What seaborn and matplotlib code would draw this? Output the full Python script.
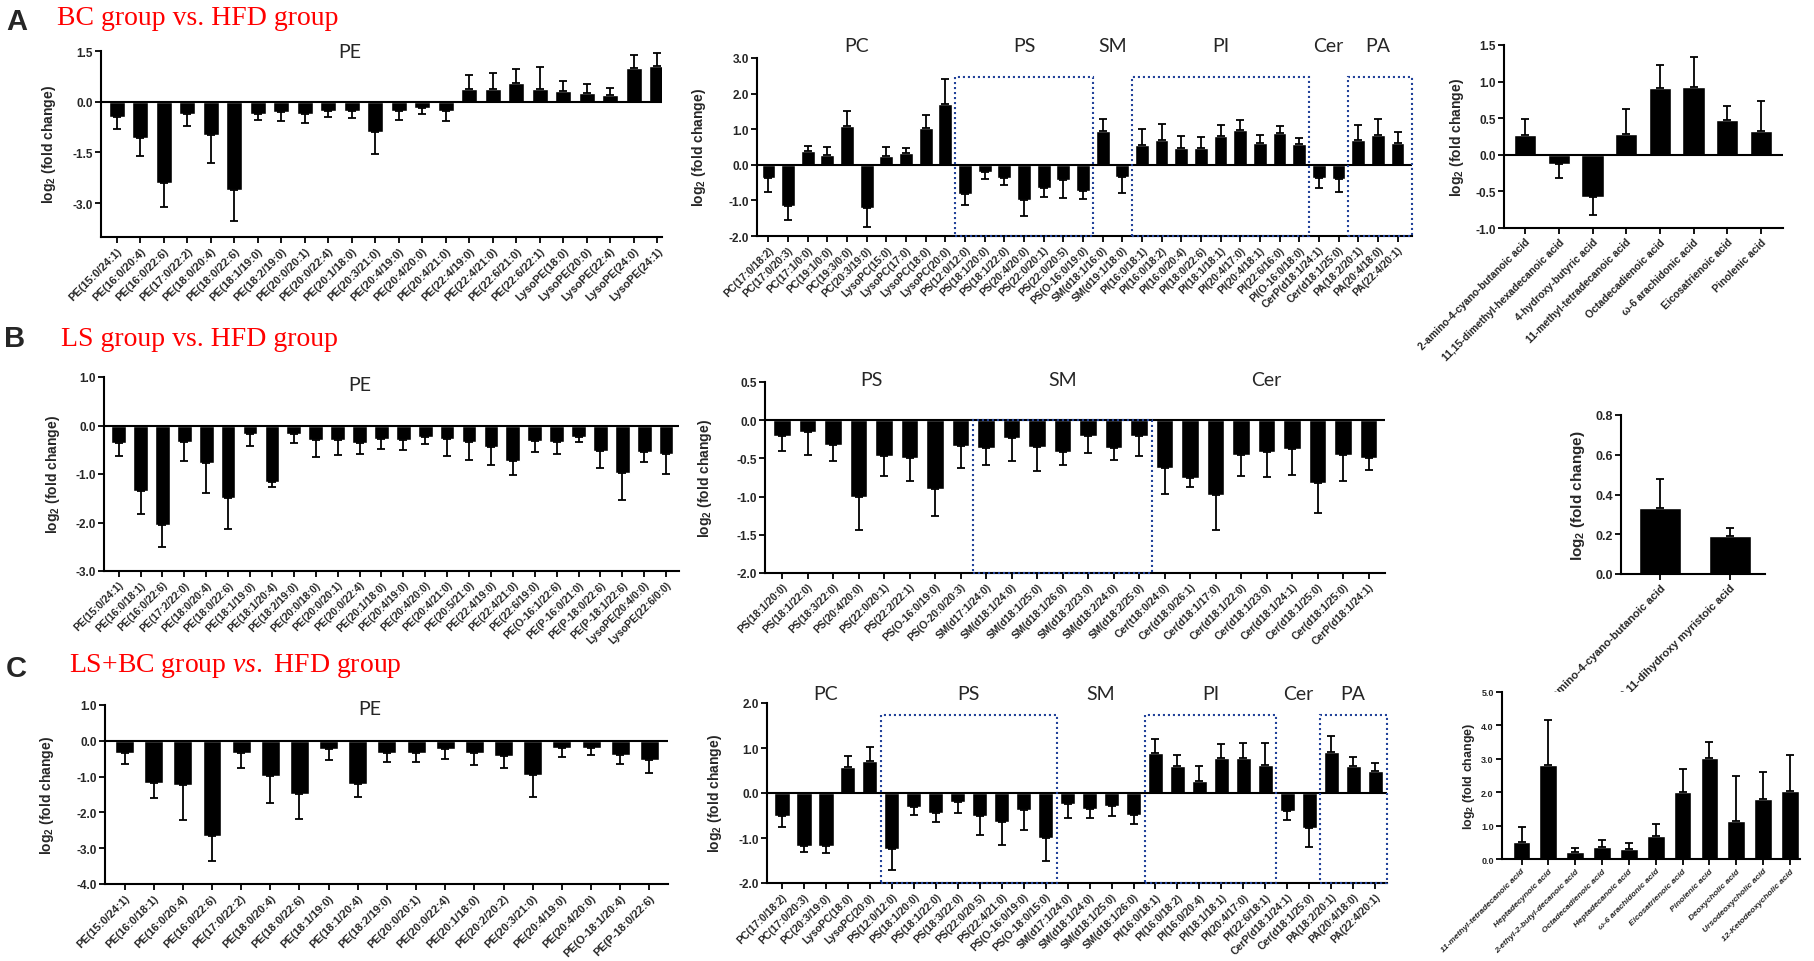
"""
Lipid fold-change bar panels (BC / LS / LS+BC vs. HFD), recreated with seaborn.
"""

import numpy as np
import matplotlib
matplotlib.use("Agg")
import matplotlib.pyplot as plt
import seaborn as sns
from matplotlib.patches import Rectangle
from matplotlib.transforms import blended_transform_factory

W, H = 1814, 962

# ---------------- data: row A (BC vs HFD) ----------------
a_pe_labels = ["PE(15:0/24:1)", "PE(16:0/20:4)", "PE(16:0/22:6)", "PE(17:0/22:2)", "PE(18:0/20:4)",
               "PE(18:0/22:6)", "PE(18:1/19:0)", "PE(18:2/19:0)", "PE(20:0/20:1)", "PE(20:0/22:4)",
               "PE(20:1/18:0)", "PE(20:3/21:0)", "PE(20:4/19:0)", "PE(20:4/20:0)", "PE(20:4/21:0)",
               "PE(22:4/19:0)", "PE(22:4/21:0)", "PE(22:6/21:0)", "PE(22:6/22:1)", "LysoPE(18:0)",
               "LysoPE(20:0)", "LysoPE(22:4)", "LysoPE(24:0)", "LysoPE(24:1)"]
a_pe_vals = [-0.46, -1.07, -2.39, -0.35, -0.97, -2.6, -0.35, -0.3, -0.37, -0.28, -0.27, -0.89,
             -0.26, -0.2, -0.27, 0.37, 0.37, 0.54, 0.39, 0.31, 0.26, 0.2, 1.0, 1.05]
a_pe_tips = [-0.81, -1.6, -3.11, -0.71, -1.8, -3.52, -0.55, -0.57, -0.64, -0.45, -0.49, -1.55,
             -0.54, -0.36, -0.57, 0.79, 0.84, 0.98, 1.02, 0.62, 0.52, 0.42, 1.37, 1.44]

a_mid_labels = ["PC(17:0/18:2)", "PC(17:0/20:3)", "PC(17:1/0:0)", "PC(19:1/0:0)", "PC(19:3/0:0)",
                "PC(20:3/19:0)", "LysoPC(15:0)", "LysoPC(17:0)", "LysoPC(18:0)", "LysoPC(20:0)",
                "PS(12:0/12:0)", "PS(18:1/20:0)", "PS(18:1/22:0)", "PS(20:4/20:0)", "PS(22:0/20:1)",
                "PS(22:0/20:5)", "PS(O-16:0/19:0)", "SM(d18:1/16:0)", "SM(d19:1/18:0)",
                "PI(16:0/18:1)", "PI(16:0/18:2)", "PI(16:0/20:4)", "PI(18:0/22:6)", "PI(18:1/18:1)",
                "PI(20:4/17:0)", "PI(20:4/18:1)", "PI(22:6/16:0)", "PI(O-16:0/18:0)",
                "CerP(d18:1/24:1)", "Cer(d18:1/25:0)", "PA(18:2/20:1)", "PA(20:4/18:0)", "PA(22:4/20:1)"]
a_mid_vals = [-0.37, -1.15, 0.39, 0.28, 1.09, -1.2, 0.26, 0.32, 1.02, 1.72,
              -0.83, -0.21, -0.36, -0.99, -0.66, -0.42, -0.74, 0.94, -0.33,
              0.57, 0.69, 0.46, 0.46, 0.81, 0.98, 0.62, 0.89, 0.58, -0.37, -0.39, 0.69, 0.85, 0.6]
a_mid_tips = [-0.75, -1.56, 0.53, 0.49, 1.5, -1.75, 0.49, 0.47, 1.39, 2.42,
              -1.14, -0.39, -0.56, -1.45, -0.9, -0.93, -0.97, 1.29, -0.78,
              1.01, 1.15, 0.8, 0.78, 1.13, 1.27, 0.85, 1.1, 0.75, -0.66, -0.77, 1.12, 1.29, 0.91]
a_mid_groups = [("PC", 0, 9, False), ("PS", 10, 16, True), ("SM", 17, 18, False),
                ("PI", 19, 27, True), ("Cer", 28, 29, False), ("PA", 30, 32, True)]

a_fa_labels = ["2-amino-4-cyano-butanoic acid", "11,15-dimethyl-hexadecanoic acid",
               "4-hydroxy-butyric acid", "11-methyl-tetradecanoic acid", "Octadecadienoic acid",
               "ω-6 arachidonic acid", "Eicosatrienoic acid", "Pinolenic acid"]
a_fa_vals = [0.27, -0.13, -0.58, 0.28, 0.91, 0.92, 0.48, 0.33]
a_fa_tips = [0.49, -0.32, -0.82, 0.62, 1.22, 1.34, 0.66, 0.73]

# ---------------- data: row B (LS vs HFD) ----------------
b_pe_labels = ["PE(15:0/24:1)", "PE(16:0/18:1)", "PE(16:0/22:6)", "PE(17:2/22:0)", "PE(18:0/20:4)",
               "PE(18:0/22:6)", "PE(18:1/19:0)", "PE(18:1/20:4)", "PE(18:2/19:0)", "PE(20:0/18:0)",
               "PE(20:0/20:1)", "PE(20:0/22:4)", "PE(20:1/18:0)", "PE(20:4/19:0)", "PE(20:4/20:0)",
               "PE(20:4/21:0)", "PE(20:5/21:0)", "PE(22:4/19:0)", "PE(22:4/21:0)", "PE(22:6/19:0)",
               "PE(O-16:1/22:6)", "PE(P-16:0/21:0)", "PE(P-18:0/22:6)", "PE(P-18:1/22:6)",
               "LysoPE(20:4/0:0)", "LysoPE(22:6/0:0)"]
b_pe_vals = [-0.37, -1.35, -2.05, -0.33, -0.78, -1.5, -0.18, -1.17, -0.18, -0.3, -0.29, -0.37,
             -0.27, -0.29, -0.24, -0.27, -0.35, -0.44, -0.73, -0.31, -0.35, -0.23, -0.52, -0.97,
             -0.54, -0.58]
b_pe_tips = [-0.63, -1.83, -2.5, -0.73, -1.39, -2.14, -0.43, -1.27, -0.36, -0.65, -0.6, -0.58,
             -0.49, -0.5, -0.38, -0.62, -0.72, -0.81, -1.02, -0.54, -0.59, -0.35, -0.88, -1.53,
             -0.75, -0.99]

b_mid_labels = ["PS(18:1/20:0)", "PS(18:1/22:0)", "PS(18:3/22:0)", "PS(20:4/20:0)", "PS(22:0/20:1)",
                "PS(22:2/22:1)", "PS(O-16:0/19:0)", "PS(O-20:0/20:3)", "SM(d17:1/24:0)",
                "SM(d18:1/24:0)", "SM(d18:1/25:0)", "SM(d18:1/26:0)", "SM(d18:2/23:0)",
                "SM(d18:2/24:0)", "SM(d18:2/25:0)", "Cer(t18:0/24:0)", "Cer(d18:0/26:1)",
                "Cer(d18:1/17:0)", "Cer(d18:1/22:0)", "Cer(d18:1/23:0)", "Cer(d18:1/24:1)",
                "Cer(d18:1/25:0)", "Cer(d18:1/25:0)", "CerP(d18:1/24:1)"]
b_mid_vals = [-0.21, -0.15, -0.32, -1.0, -0.47, -0.5, -0.9, -0.34, -0.36, -0.23, -0.35, -0.41,
              -0.21, -0.37, -0.21, -0.63, -0.75, -0.98, -0.46, -0.42, -0.38, -0.82, -0.45, -0.5]
b_mid_tips = [-0.4, -0.45, -0.54, -1.44, -0.73, -0.79, -1.26, -0.62, -0.59, -0.54, -0.66, -0.58,
              -0.43, -0.52, -0.47, -0.97, -0.87, -1.44, -0.73, -0.74, -0.72, -1.22, -0.8, -0.65]
b_mid_groups = [("PS", 0, 7, False), ("SM", 8, 14, True), ("Cer", 15, 23, False)]

b_fa_labels = ["2-amino-4-cyano-butanoic acid", "3,11-dihydroxy myristoic acid"]
b_fa_vals = [0.33, 0.19]
b_fa_tips = [0.48, 0.23]

# ---------------- data: row C (LS+BC vs HFD) ----------------
c_pe_labels = ["PE(15:0/24:1)", "PE(16:0/18:1)", "PE(16:0/20:4)", "PE(16:0/22:6)", "PE(17:0/22:2)",
               "PE(18:0/20:4)", "PE(18:0/22:6)", "PE(18:1/19:0)", "PE(18:1/20:4)", "PE(18:2/19:0)",
               "PE(20:0/20:1)", "PE(20:0/22:4)", "PE(20:1/18:0)", "PE(20:2/20:2)", "PE(20:3/21:0)",
               "PE(20:4/19:0)", "PE(20:4/20:0)", "PE(O-18:1/20:4)", "PE(P-18:0/22:6)"]
c_pe_vals = [-0.33, -1.19, -1.24, -2.67, -0.35, -0.98, -1.48, -0.22, -1.21, -0.33, -0.34, -0.24,
             -0.34, -0.43, -0.95, -0.21, -0.21, -0.41, -0.55]
c_pe_tips = [-0.66, -1.61, -2.2, -3.36, -0.75, -1.73, -2.18, -0.53, -1.57, -0.59, -0.6, -0.52,
             -0.67, -0.75, -1.57, -0.46, -0.39, -0.66, -0.9]

c_mid_labels = ["PC(17:0/18:2)", "PC(17:0/20:3)", "PC(20:3/19:0)", "LysoPC(18:0)", "LysoPC(20:0)",
                "PS(12:0/12:0)", "PS(18:1/20:0)", "PS(18:1/22:0)", "PS(18:3/22:0)", "PS(22:0/20:5)",
                "PS(22:4/21:0)", "PS(O-16:0/19:0)", "PS(O-18:0/15:0)", "SM(d17:1/24:0)",
                "SM(d18:1/24:0)", "SM(d18:1/25:0)", "SM(d18:1/26:0)", "PI(16:0/18:1)",
                "PI(16:0/18:2)", "PI(16:0/20:4)", "PI(18:1/18:1)", "PI(20:4/17:0)", "PI(22:6/18:1)",
                "CerP(d18:1/24:1)", "Cer(d18:1/25:0)", "PA(18:2/20:1)", "PA(20:4/18:0)", "PA(22:4/20:1)"]
c_mid_vals = [-0.5, -1.18, -1.18, 0.57, 0.72, -1.24, -0.32, -0.45, -0.19, -0.52, -0.65, -0.38,
              -1.0, -0.25, -0.35, -0.28, -0.49, 0.88, 0.59, 0.27, 0.78, 0.78, 0.63, -0.39, -0.77,
              0.91, 0.6, 0.48]
c_mid_tips = [-0.76, -1.32, -1.34, 0.82, 1.02, -1.7, -0.48, -0.65, -0.45, -0.93, -1.15, -0.82,
              -1.51, -0.56, -0.56, -0.52, -0.68, 1.2, 0.85, 0.59, 1.09, 1.11, 1.11, -0.61, -1.21,
              1.26, 0.81, 0.67]
c_mid_groups = [("PC", 0, 4, False), ("PS", 5, 12, True), ("SM", 13, 16, False),
                ("PI", 17, 22, True), ("Cer", 23, 24, False), ("PA", 25, 27, True)]

c_fa_labels = ["11-methyl-tetradecanoic acid", "Heptadecynoic acid", "2-ethyl-2-butyl-decanoic acid",
               "Octadecadienoic acid", "Heptadecanoic acid", "ω-6 arachidonic acid",
               "Eicosatrienoic acid", "Pinolenic acid", "Deoxycholic acid", "Ursodeoxycholic acid",
               "12-Ketodeoxycholic acid"]
c_fa_vals = [0.52, 2.82, 0.22, 0.36, 0.3, 0.7, 2.01, 3.02, 1.15, 1.81, 2.04]
c_fa_tips = [0.96, 4.17, 0.33, 0.57, 0.48, 1.05, 2.68, 3.49, 2.48, 2.59, 3.12]

# ---------------- style ----------------
sns.set_style("ticks")
plt.rcParams["font.family"] = ["Liberation Sans", "DejaVu Sans"]
plt.rcParams["axes.unicode_minus"] = False
plt.rcParams["mathtext.fontset"] = "custom"
plt.rcParams["mathtext.rm"] = "Liberation Serif"
plt.rcParams["mathtext.it"] = "Liberation Serif:italic"

BOX_COLOR = "#23439a"
GROUP_FONT = ["Lato", "DejaVu Sans"]

fig = plt.figure(figsize=(W / 100, H / 100), dpi=100)


def panel(box, labels, vals, tips, ylim, yticks, first_px, step_px, ylab_px,
          bar_w=0.68, xfs=7.5, yfs=8.5, lfs=10, italic=False):
    """One bar panel; box = (left, top, right, bottom) in pixels."""
    left, top, right, bottom = box
    ax = fig.add_axes([left / W, 1 - bottom / H, (right - left) / W, (bottom - top) / H])
    x = np.arange(len(vals))
    sns.barplot(x=x, y=vals, color="black", saturation=1, width=bar_w,
                errorbar=None, ax=ax, zorder=2)
    v = np.asarray(vals)
    t = np.asarray(tips)
    lower = np.where(v < 0, v - t, 0)
    upper = np.where(v >= 0, t - v, 0)
    ax.errorbar(x, v, yerr=[lower, upper], fmt="none", ecolor="black",
                elinewidth=1.3, capsize=3.0, capthick=1.3, zorder=3)

    ax.set_xlim(-(first_px - left) / step_px, (right - first_px) / step_px)
    ax.set_ylim(ylim)
    if ylim[0] < 0:
        ax.axhline(0, color="black", lw=1.5, zorder=4)

    ax.set_xticks(x)
    ax.set_xticklabels(labels, rotation=45, ha="right", rotation_mode="anchor",
                       fontsize=xfs, fontweight="bold",
                       fontstyle="italic" if italic else "normal")
    ax.set_yticks(yticks)
    ax.set_yticklabels([f"{y:.1f}" for y in yticks], fontsize=yfs, fontweight="bold")
    ax.tick_params(axis="both", direction="out", length=4, width=1.3, color="black", pad=2)
    ax.set_xlabel("")
    ax.set_ylabel(r"log$_\mathregular{2}$ (fold change)", fontsize=lfs, fontweight="bold")
    ax.yaxis.set_label_coords((ylab_px + lfs * 0.55 - left) / (right - left), 0.5)
    sns.despine(ax=ax)
    for s in ("left", "bottom"):
        ax.spines[s].set_linewidth(1.5)
        ax.spines[s].set_color("black")
    return ax


def group_labels(ax, groups, y_axes, box_top):
    trans = blended_transform_factory(ax.transData, ax.transAxes)
    x_right = ax.get_xlim()[1]
    n_last = max(g[2] for g in groups)
    for name, i0, i1, boxed in groups:
        ax.text((i0 + i1) / 2, y_axes, name, transform=trans, ha="center", va="center",
                fontsize=14, family=GROUP_FONT)
        if boxed:
            x0 = i0 - 0.5
            x1 = x_right if i1 == n_last else i1 + 0.5
            y0 = ax.get_ylim()[0]
            ax.add_patch(Rectangle((x0, y0), x1 - x0, box_top - y0, fill=False,
                                   ls=(0, (1, 1.4)), ec=BOX_COLOR, lw=1.5,
                                   clip_on=False, zorder=5))


def pe_label(ax, xpos, y_axes):
    trans = blended_transform_factory(ax.transData, ax.transAxes)
    ax.text(xpos, y_axes, "PE", transform=trans, ha="center", va="center",
            fontsize=14, family=GROUP_FONT)


def row_title(letter, text, x_letter, y_letter, x_text, y_text):
    fig.text(x_letter / W, 1 - y_letter / H, letter, fontsize=21, fontweight="bold",
             ha="left", va="baseline")
    fig.text(x_text / W, 1 - y_text / H, text, fontsize=20, color="#ff0000",
             family=["Liberation Serif", "DejaVu Serif"], ha="left", va="baseline")


# ---------------- row A ----------------
row_title("A", "BC group vs. HFD group", 6, 30, 57, 25)

ax = panel((101, 52, 662, 238), a_pe_labels, a_pe_vals, a_pe_tips, (-4.0, 1.5),
           [-3.0, -1.5, 0.0, 1.5], 116.7, 23.5, 52, xfs=8)
pe_label(ax, 9.9, 1.0)

ax = panel((757, 59, 1412, 237), a_mid_labels, a_mid_vals, a_mid_tips, (-2.0, 3.0),
           [-2, -1, 0, 1, 2, 3], 768.4, 19.66, 702, bar_w=0.7)
group_labels(ax, a_mid_groups, 1.07, 2.47)

panel((1504, 46, 1783, 229), a_fa_labels, a_fa_vals, a_fa_tips, (-1.0, 1.5),
      [-1.0, -0.5, 0.0, 0.5, 1.0, 1.5], 1525.2, 33.66, 1460, bar_w=0.66)

# ---------------- row B ----------------
row_title("B", "LS group vs. HFD group", 4, 347, 61, 346)

ax = panel((104, 378, 679, 572), b_pe_labels, b_pe_vals, b_pe_tips, (-3.0, 1.0),
           [-3, -2, -1, 0, 1], 118.6, 21.9, 57, bar_w=0.67)
pe_label(ax, 11.0, 0.962)

ax = panel((765, 383, 1385, 574), b_mid_labels, b_mid_vals, b_mid_tips, (-2.0, 0.5),
           [-2.0, -1.5, -1.0, -0.5, 0.0, 0.5], 782, 25.5, 709, bar_w=0.69)
group_labels(ax, b_mid_groups, 1.014, 0.0)

panel((1621, 416, 1765, 575), b_fa_labels, b_fa_vals, b_fa_tips, (0.0, 0.8),
      [0.0, 0.2, 0.4, 0.6, 0.8], 1660, 70, 1581, bar_w=0.6, xfs=8, yfs=9, lfs=11)

# ---------------- row C ----------------
row_title("C", "LS+BC group $\\mathit{vs.}$ HFD group", 6, 677, 69, 672)

ax = panel((105, 706, 668, 885), c_pe_labels, c_pe_vals, c_pe_tips, (-4.0, 1.0),
           [-4, -3, -2, -1, 0, 1], 124.5, 29.16, 51, bar_w=0.65, xfs=8)
pe_label(ax, 8.4, 0.978)

ax = panel((767, 704, 1387, 884), c_mid_labels, c_mid_vals, c_mid_tips, (-2.0, 2.0),
           [-2, -1, 0, 1, 2], 782, 21.97, 718, bar_w=0.69)
group_labels(ax, c_mid_groups, 1.05, 1.74)

panel((1502, 693, 1800, 860), c_fa_labels, c_fa_vals, c_fa_tips, (0.0, 5.0),
      [0, 1, 2, 3, 4, 5], 1521.5, 26.85, 1472, bar_w=0.66, xfs=6, yfs=6.5, lfs=9,
      italic=True)

fig.savefig("out.png", dpi=100)
